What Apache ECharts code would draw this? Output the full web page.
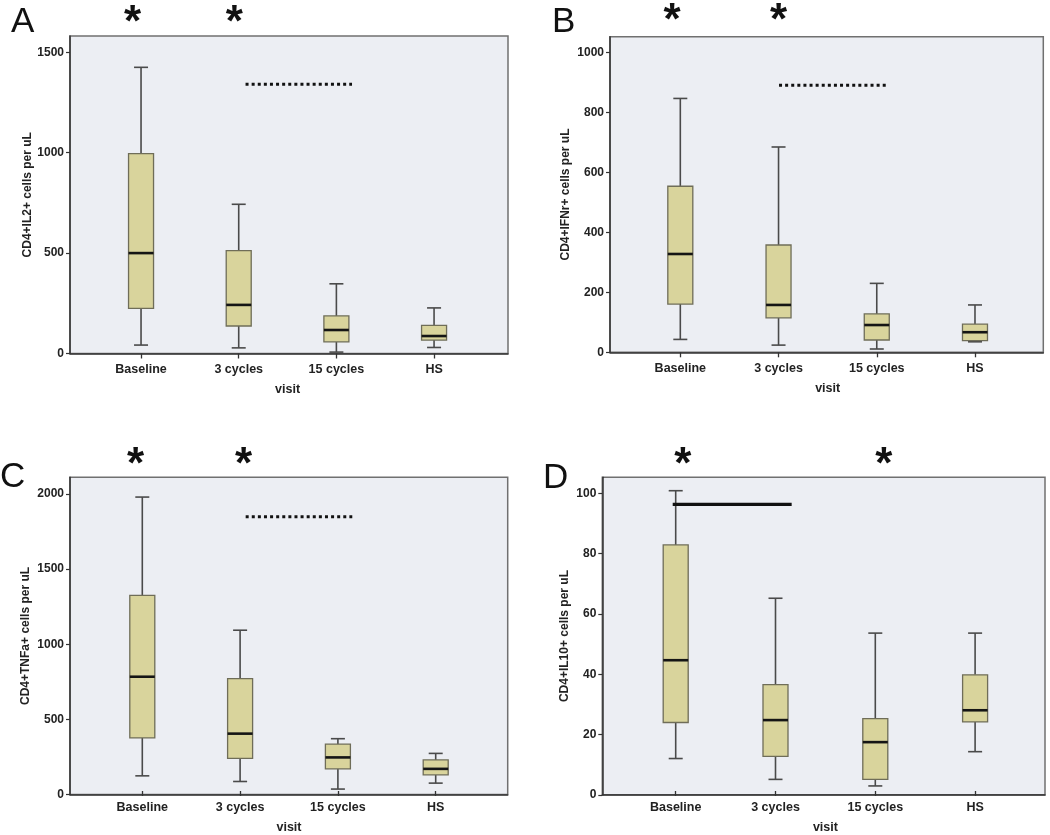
<!DOCTYPE html>
<html>
<head>
<meta charset="utf-8">
<script src="https://cdn.jsdelivr.net/npm/echarts@6/dist/echarts.min.js"></script>
<style>
html,body{margin:0;padding:0;background:#fff;}
#chart{width:1050px;height:835px;}
</style>
</head>
<body>
<div id="chart"></div>
<script>
// ---------------- data ----------------
const categories = ['Baseline', '3 cycles', '15 cycles', 'HS'];

// each row: [lower whisker, Q1, median, Q3, upper whisker]
const il2Boxes = [[42, 225, 500, 995, 1425], [28, 137, 242, 512, 743], [7, 58, 117, 187, 347], [30, 67, 87, 140, 227]];
const ifnBoxes = [[43, 161, 328, 554, 847], [24, 115, 158, 358, 685], [11, 41, 91, 128, 230], [35, 39, 67, 94, 158]];
const tnfBoxes = [[102, 357, 769, 1317, 1978], [64, 219, 386, 756, 1082], [13, 149, 226, 315, 352], [53, 109, 149, 209, 253]];
const il10Boxes = [[10.9, 23, 43.9, 82.6, 100.8], [3.9, 11.6, 23.8, 35.7, 64.7], [1.7, 3.9, 16.4, 24.3, 53], [13.2, 23.2, 27.1, 39, 53]];

const il2Ticks = [0, 500, 1000, 1500];
const ifnTicks = [0, 200, 400, 600, 800, 1000];
const tnfTicks = [0, 500, 1000, 1500, 2000];
const il10Ticks = [0, 20, 40, 60, 80, 100];

const il2Max = 1581, ifnMax = 1053, tnfMax = 2111, il10Max = 105.3;

// significance bar: [from (category units), to (category units), value]
const il2Sig = [1.07, 2.16, 1341];
const ifnSig = [1.005, 2.095, 891];
const tnfSig = [1.057, 2.147, 1845];
const il10Sig = [-0.03, 1.162, 96.2];

// star positions in category units
const il2Stars = [-0.087, 0.954];
const ifnStars = [-0.085, 1.0];
const tnfStars = [-0.07, 1.036];
const il10Stars = [0.071, 2.085];

const yNames = ['CD4+IL2+ cells per uL', 'CD4+IFNr+ cells per uL', 'CD4+TNFa+ cells per uL', 'CD4+IL10+ cells per uL'];
const panelLetters = ['A', 'B', 'C', 'D'];

// ---------------- layout ----------------
const panels = [
  { boxes: il2Boxes, ticks: il2Ticks, max: il2Max, sig: il2Sig, dotted: true, stars: il2Stars,
    frame: { left: 70, top: 36, width: 438, height: 317.5 }, data: { left: 92.2, width: 390.7 },
    nameGap: 35, starOff: -12, letter: { left: 11, top: 5 } },
  { boxes: ifnBoxes, ticks: ifnTicks, max: ifnMax, sig: ifnSig, dotted: true, stars: ifnStars,
    frame: { left: 610, top: 36.7, width: 433.3, height: 315.6 }, data: { left: 631.2, width: 392.9 },
    nameGap: 38, starOff: -15, letter: { left: 552, top: 5 } },
  { boxes: tnfBoxes, ticks: tnfTicks, max: tnfMax, sig: tnfSig, dotted: true, stars: tnfStars,
    frame: { left: 70, top: 477.3, width: 437.7, height: 317.3 }, data: { left: 93.4, width: 391.2 },
    nameGap: 38, starOff: -11, letter: { left: 0, top: 460 } },
  { boxes: il10Boxes, ticks: il10Ticks, max: il10Max, sig: il10Sig, dotted: false, stars: il10Stars,
    frame: { left: 602.3, top: 477.3, width: 442.7, height: 317.5 }, data: { left: 625.8, width: 399.2 },
    nameGap: 32, starOff: -11, letter: { left: 543, top: 461 } }
];

const FONT = 'Liberation Sans, Arial, sans-serif';

function catX(api, pos, y) {
  const a = api.coord([0, y]);
  const b = api.coord([1, y]);
  return [a[0] + (b[0] - a[0]) * pos, a[1]];
}

function renderBox(params, api) {
  const x = api.value(0);
  const lo = api.coord([x, api.value(1)]);
  const q1 = api.coord([x, api.value(2)]);
  const md = api.coord([x, api.value(3)]);
  const q3 = api.coord([x, api.value(4)]);
  const hi = api.coord([x, api.value(5)]);
  const cx = lo[0];
  const hw = 12.5, cw = 7;
  const ws = { stroke: '#4a4a4a', lineWidth: 1.6 };
  return {
    type: 'group',
    children: [
      { type: 'line', shape: { x1: cx, y1: hi[1], x2: cx, y2: q3[1] }, style: ws },
      { type: 'line', shape: { x1: cx, y1: q1[1], x2: cx, y2: lo[1] }, style: ws },
      { type: 'line', shape: { x1: cx - cw, y1: hi[1], x2: cx + cw, y2: hi[1] }, style: ws },
      { type: 'line', shape: { x1: cx - cw, y1: lo[1], x2: cx + cw, y2: lo[1] }, style: ws },
      { type: 'rect', shape: { x: cx - hw, y: q3[1], width: 2 * hw, height: q1[1] - q3[1] },
        style: { fill: '#d9d49c', stroke: '#6f6d58', lineWidth: 1.3 } },
      { type: 'line', shape: { x1: cx - hw, y1: md[1], x2: cx + hw, y2: md[1] },
        style: { stroke: '#151515', lineWidth: 2.6 } }
    ]
  };
}

function makeSigRenderer(dotted) {
  return function (params, api) {
    const y = api.value(2);
    const p0 = catX(api, api.value(0), y);
    const p1 = catX(api, api.value(1), y);
    return {
      type: 'line',
      shape: { x1: p0[0], y1: p0[1], x2: p1[0], y2: p1[1] },
      style: dotted
        ? { stroke: '#111', lineWidth: 3, lineDash: [3, 3.1], lineCap: 'butt' }
        : { stroke: '#111', lineWidth: 3.2 }
    };
  };
}

function makeStarRenderer(maxVal, off) {
  return function (params, api) {
    const p = catX(api, api.value(0), maxVal);
    return {
      type: 'text',
      style: { text: '*', x: p[0], y: p[1] + off, fill: '#111',
        font: 'bold 44px ' + FONT, align: 'center', verticalAlign: 'middle' }
    };
  };
}

const grid = [], xAxis = [], yAxis = [], series = [], graphic = [];

panels.forEach((p, i) => {
  const gf = 2 * i, gd = 2 * i + 1;
  grid.push({ left: p.frame.left, top: p.frame.top, width: p.frame.width, height: p.frame.height,
    show: true, backgroundColor: '#eceef3', borderColor: '#707070', borderWidth: 1.5 });
  grid.push({ left: p.data.left, top: p.frame.top, width: p.data.width, height: p.frame.height });

  xAxis.push({ gridIndex: gf, type: 'category', data: categories,
    axisLine: { show: true, lineStyle: { color: '#333', width: 1.5 } },
    axisTick: { show: false }, axisLabel: { show: false }, splitLine: { show: false } });
  xAxis.push({ gridIndex: gd, type: 'category', data: categories, boundaryGap: true,
    axisLine: { show: false },
    axisTick: { show: true, alignWithLabel: true, length: 5, lineStyle: { color: '#333', width: 1.3 } },
    axisLabel: { margin: 10, color: '#222', fontWeight: 'bold', fontSize: 12.5, fontFamily: FONT },
    name: 'visit', nameLocation: 'middle', nameGap: 30,
    nameTextStyle: { color: '#222', fontWeight: 'bold', fontSize: 12.5, fontFamily: FONT },
    splitLine: { show: false } });

  yAxis.push({ gridIndex: gf, type: 'value', min: 0, max: p.max,
    axisLine: { show: true, lineStyle: { color: '#333', width: 1.5 } },
    axisTick: { show: true, length: 4, customValues: p.ticks, lineStyle: { color: '#333', width: 1.2 } },
    axisLabel: { customValues: p.ticks, formatter: v => String(v), margin: 6, color: '#222',
      fontWeight: 'bold', fontSize: 12, fontFamily: FONT },
    splitLine: { show: false },
    name: yNames[i], nameLocation: 'middle', nameGap: p.nameGap,
    nameTextStyle: { color: '#222', fontWeight: 'bold', fontSize: 12, fontFamily: FONT } });
  yAxis.push({ gridIndex: gd, type: 'value', min: 0, max: p.max, show: false });

  series.push({ type: 'custom', xAxisIndex: gd, yAxisIndex: gd, z: 3,
    data: p.boxes.map((b, k) => [k].concat(b)), renderItem: renderBox });
  series.push({ type: 'custom', xAxisIndex: gd, yAxisIndex: gd, z: 4,
    data: [p.sig], renderItem: makeSigRenderer(p.dotted) });
  series.push({ type: 'custom', xAxisIndex: gd, yAxisIndex: gd, z: 4, clip: false,
    data: p.stars.map(s => [s]), renderItem: makeStarRenderer(p.max, p.starOff) });

  graphic.push({ type: 'text', left: p.letter.left, top: p.letter.top,
    style: { text: panelLetters[i], font: '35px ' + FONT, fill: '#111' } });
});

const chart = echarts.init(document.getElementById('chart'), null, { renderer: 'canvas' });
chart.setOption({
  animation: false,
  backgroundColor: '#ffffff',
  grid, xAxis, yAxis, series, graphic
});
</script>
</body>
</html>
